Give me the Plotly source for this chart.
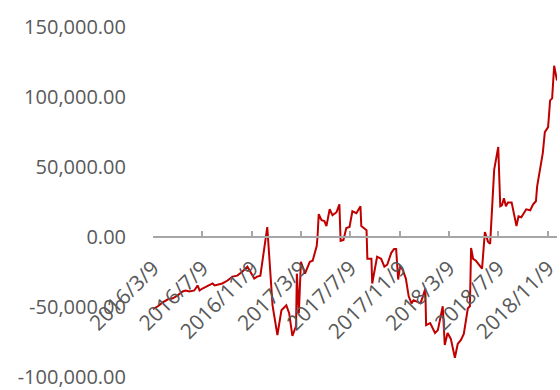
import plotly.graph_objects as go

dates = [
    "2016-03-09", "2016-03-21", "2016-04-02", "2016-04-15", "2016-04-27", "2016-05-09",
    "2016-05-21", "2016-05-29", "2016-06-07", "2016-06-19", "2016-06-27", "2016-07-02",
    "2016-07-09", "2016-07-21", "2016-08-03", "2016-08-08", "2016-08-15", "2016-08-27",
    "2016-09-09", "2016-09-21", "2016-10-03", "2016-10-16", "2016-10-28", "2016-11-02",
    "2016-11-09", "2016-11-14", "2016-11-21", "2016-11-29", "2016-12-16", "2016-12-29",
    "2017-01-10", "2017-01-20", "2017-02-01", "2017-02-08", "2017-02-16", "2017-02-25",
    "2017-02-27", "2017-03-04", "2017-03-09", "2017-03-19", "2017-03-31", "2017-04-07",
    "2017-04-17", "2017-04-19", "2017-04-22", "2017-04-29", "2017-05-06", "2017-05-11",
    "2017-05-19", "2017-05-26", "2017-06-05", "2017-06-12", "2017-06-15", "2017-06-22",
    "2017-06-29", "2017-07-07", "2017-07-14", "2017-07-24", "2017-08-03", "2017-08-05",
    "2017-08-18", "2017-08-20", "2017-08-30", "2017-09-01", "2017-09-13", "2017-09-23",
    "2017-10-01", "2017-10-08", "2017-10-18", "2017-10-25", "2017-10-30", "2017-11-04",
    "2017-11-09", "2017-11-16", "2017-11-23", "2017-11-30", "2017-12-07", "2017-12-12",
    "2017-12-19", "2017-12-29", "2018-01-05", "2018-01-10", "2018-01-12", "2018-01-22",
    "2018-02-03", "2018-02-10", "2018-02-22", "2018-02-27", "2018-03-06", "2018-03-14",
    "2018-03-24", "2018-03-31", "2018-04-08", "2018-04-15", "2018-04-25", "2018-04-30",
    "2018-05-03", "2018-05-08", "2018-05-15", "2018-05-25", "2018-05-30", "2018-06-06",
    "2018-06-14", "2018-06-19", "2018-06-26", "2018-06-29", "2018-07-09", "2018-07-14",
    "2018-07-18", "2018-07-23", "2018-07-28", "2018-08-02", "2018-08-11", "2018-08-18",
    "2018-08-23", "2018-08-28", "2018-09-04", "2018-09-16", "2018-09-26", "2018-10-03",
    "2018-10-10", "2018-10-13", "2018-10-20", "2018-10-27", "2018-11-01", "2018-11-09",
    "2018-11-14", "2018-11-19", "2018-11-24", "2018-12-01",
]

values = [
    -51600, -49500, -46700, -44500, -43800, -41700,
    -38900, -38200, -38900, -38200, -34600, -38200,
    -36800, -35300, -33200, -34600, -33900, -33200,
    -31100, -28300, -27600, -24700, -21200, -24000,
    -27600, -29700, -28300, -27600, 7100, -48800,
    -70000, -52300, -48800, -54400, -70700, -63600,
    -26200, -54400, -17700, -26200, -17700, -17000,
    -6400, 0, 16300, 12000, 11300, 7800,
    19800, 15600, 17700, 23300, -2800, -2100,
    6400, 7100, 18400, 17000, 21900, 7800,
    4900, -15600, -15600, -33200, -14100, -15600,
    -21200, -19800, -11300, -8500, -8500, -30400,
    -20500, -24000, -29700, -42400, -47400, -45200,
    -46000, -47400, -41700, -36800, -62900, -61500,
    -68600, -66500, -49500, -77100, -68600, -72800,
    -86300, -76400, -73500, -69300, -50900, -49500,
    -7800, -15600, -17000, -20500, -22600, 3500,
    -3500, -4900, 29000, 48100, 64300, 21900,
    22600, 27600, 21900, 24700, 24700, 14800,
    7800, 14800, 14100, 19800, 19100, 23300,
    25500, 36100, 49500, 60100, 74900, 78500,
    97600, 99000, 122300, 111700,
]

x_tick_dates = ["2016-03-09", "2016-07-09", "2016-11-09", "2017-03-09", "2017-07-09",
                "2017-11-09", "2018-03-09", "2018-07-09", "2018-11-09"]
x_tick_text = ["2016/3/9", "2016/7/9", "2016/11/9", "2017/3/9", "2017/7/9",
               "2017/11/9", "2018/3/9", "2018/7/9", "2018/11/9"]

y_tick_vals = [150000, 100000, 50000, 0, -50000, -100000]
y_tick_text = ["150,000.00", "100,000.00", "50,000.00", "0.00", "-50,000.00", "-100,000.00"]

FONT = "Open Sans"
GRAY = "#595959"

fig = go.Figure()
fig.add_trace(go.Scatter(
    x=dates, y=values, mode="lines",
    line=dict(color="#C00000", width=2),
    hoverinfo="skip", showlegend=False,
))

fig.update_layout(
    width=560, height=390,
    margin=dict(l=153, r=0, t=27, b=9),
    paper_bgcolor="white", plot_bgcolor="white",
    font=dict(family=FONT, color=GRAY, size=20),
    xaxis=dict(
        type="date",
        range=["2016-03-09", "2018-12-01"],
        anchor="free", position=0.4,
        tickvals=x_tick_dates, ticktext=x_tick_text,
        tickangle=-45,
        ticks="inside", ticklen=5, tickwidth=1.5, tickcolor="#A6A6A6",
        showline=True, linecolor="#A6A6A6", linewidth=1.5,
        showgrid=False, zeroline=False,
        ticklabelstandoff=10, ticklabeloverflow="allow",
        tickfont=dict(family=FONT, color=GRAY, size=21),
    ),
    yaxis=dict(
        range=[-100010, 150000],
        tickvals=y_tick_vals, ticktext=y_tick_text,
        showline=False, showgrid=False, zeroline=False,
        ticks="", ticklabelstandoff=26, ticklabeloverflow="allow",
        tickfont=dict(family=FONT, color=GRAY, size=20),
    ),
)

fig.write_html("out.html")
